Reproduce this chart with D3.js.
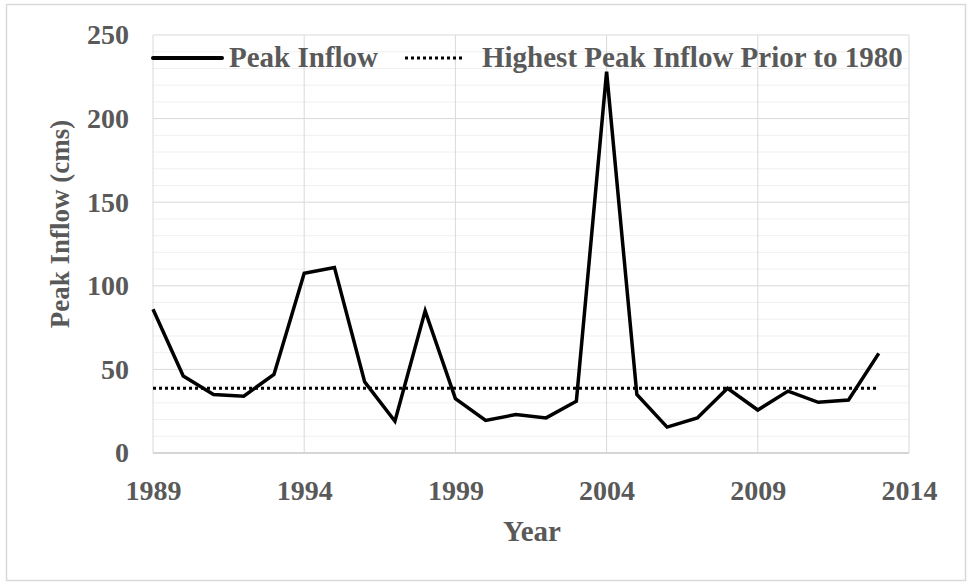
<!DOCTYPE html>
<html lang="en">

    <head>
    <meta charset="UTF-8">
    <title>Peak Inflow</title>
    <script src="https://d3js.org/d3.v7.min.js"></script>
    <style>
        body {
            margin: 0;
            background: #fff;
        }

        text {
            font-family: "Liberation Serif", "Times New Roman", serif;
            font-weight: bold;
            fill: #595959;
        }
    </style>
    </head>

    <body>
        <div id="chart"></div>
    </body>

    <script>
    // data
    var years = [1989, 1990, 1991, 1992, 1993, 1994, 1995, 1996, 1997, 1998, 1999, 2000, 2001,
                 2002, 2003, 2004, 2005, 2006, 2007, 2008, 2009, 2010, 2011, 2012, 2013];
    var inflow = [86, 46, 35, 34, 47, 107.5, 111, 42.5, 19, 85, 32.5, 19.5, 23,
                  21, 31, 228, 35, 15.5, 21, 38.7, 25.7, 37, 30.3, 31.7, 59.6];
    var priorPeak = 38.7;
    var xTicks = [1989, 1994, 1999, 2004, 2009, 2014];
    var yTicks = [0, 50, 100, 150, 200, 250];
    var seriesNames = ["Peak Inflow", "Highest Peak Inflow Prior to 1980"];

    var width = 967,
        height = 582;
    var plot = {left: 153, right: 909, top: 35, bottom: 453};

    var svg = d3.select("#chart")
        .append("svg")
        .attr("width", width)
        .attr("height", height);

    // outer chart border
    svg.append("rect")
        .attr("x", 6.5)
        .attr("y", 4.5)
        .attr("width", 959)
        .attr("height", 576)
        .attr("fill", "#fff")
        .attr("stroke", "#d9d9d9")
        .attr("stroke-width", 1.5);

    var x = d3.scaleLinear()
        .domain([1989, 2014])
        .range([plot.left, plot.right]);

    var y = d3.scaleLinear()
        .domain([0, 250])
        .range([plot.bottom, plot.top]);

    // minor horizontal grid every 10
    svg.append("g")
        .selectAll("line")
        .data(d3.range(10, 250, 10).filter(function(d) { return d % 50 != 0; }))
        .enter().append("line")
        .attr("x1", plot.left)
        .attr("x2", plot.right)
        .attr("y1", function(d) { return y(d); })
        .attr("y2", function(d) { return y(d); })
        .attr("stroke", "#f0f0f0")
        .attr("stroke-width", 1);

    // major horizontal grid
    svg.append("g")
        .selectAll("line")
        .data(yTicks.slice(1))
        .enter().append("line")
        .attr("x1", plot.left)
        .attr("x2", plot.right)
        .attr("y1", function(d) { return y(d); })
        .attr("y2", function(d) { return y(d); })
        .attr("stroke", "#d9d9d9")
        .attr("stroke-width", 1);

    // vertical grid
    svg.append("g")
        .selectAll("line")
        .data(xTicks)
        .enter().append("line")
        .attr("x1", function(d) { return x(d); })
        .attr("x2", function(d) { return x(d); })
        .attr("y1", plot.top)
        .attr("y2", plot.bottom)
        .attr("stroke", "#d9d9d9")
        .attr("stroke-width", 1);

    // bottom axis line
    svg.append("line")
        .attr("x1", plot.left)
        .attr("x2", plot.right)
        .attr("y1", plot.bottom)
        .attr("y2", plot.bottom)
        .attr("stroke", "#c8c8c8")
        .attr("stroke-width", 1.5);

    // axes (labels only)
    var xAxis = svg.append("g")
        .attr("transform", "translate(0," + plot.bottom + ")")
        .call(d3.axisBottom(x).tickValues(xTicks).tickFormat(d3.format("d")).tickSize(0).tickPadding(27));
    xAxis.select(".domain").remove();
    xAxis.selectAll("text")
        .style("font-size", "28px")
        .attr("fill", "#595959");

    var yAxis = svg.append("g")
        .attr("transform", "translate(" + plot.left + ",0)")
        .call(d3.axisLeft(y).tickValues(yTicks).tickSize(0).tickPadding(24));
    yAxis.select(".domain").remove();
    yAxis.selectAll("text")
        .style("font-size", "28px")
        .attr("fill", "#595959");

    // axis titles
    svg.append("text")
        .attr("x", 532)
        .attr("y", 541)
        .attr("text-anchor", "middle")
        .style("font-size", "29px")
        .text("Year");

    svg.append("text")
        .attr("transform", "translate(69,224) rotate(-90)")
        .attr("text-anchor", "middle")
        .style("font-size", "27px")
        .text("Peak Inflow (cms)");

    // threshold dotted line
    svg.append("line")
        .attr("x1", x(years[0]))
        .attr("x2", x(years[years.length - 1]))
        .attr("y1", y(priorPeak))
        .attr("y2", y(priorPeak))
        .attr("stroke", "#000")
        .attr("stroke-width", 3)
        .attr("stroke-dasharray", "3,3");

    // peak inflow line
    var line = d3.line()
        .x(function(d, i) { return x(years[i]); })
        .y(function(d) { return y(d); });

    svg.append("path")
        .datum(inflow)
        .attr("d", line)
        .attr("fill", "none")
        .attr("stroke", "#000")
        .attr("stroke-width", 3.5)
        .attr("stroke-linejoin", "miter");

    // legend
    var legendY = 58;
    var legend = svg.append("g");

    legend.append("line")
        .attr("x1", 153)
        .attr("x2", 222)
        .attr("y1", legendY)
        .attr("y2", legendY)
        .attr("stroke", "#000")
        .attr("stroke-width", 4)
        .attr("stroke-linecap", "round");

    legend.append("text")
        .attr("x", 229)
        .attr("y", legendY + 9)
        .style("font-size", "29px")
        .text(seriesNames[0]);

    legend.append("line")
        .attr("x1", 405)
        .attr("x2", 462)
        .attr("y1", legendY)
        .attr("y2", legendY)
        .attr("stroke", "#000")
        .attr("stroke-width", 3)
        .attr("stroke-dasharray", "3,3");

    legend.append("text")
        .attr("x", 482)
        .attr("y", legendY + 9)
        .style("font-size", "29px")
        .text(seriesNames[1]);
    </script>

</html>
